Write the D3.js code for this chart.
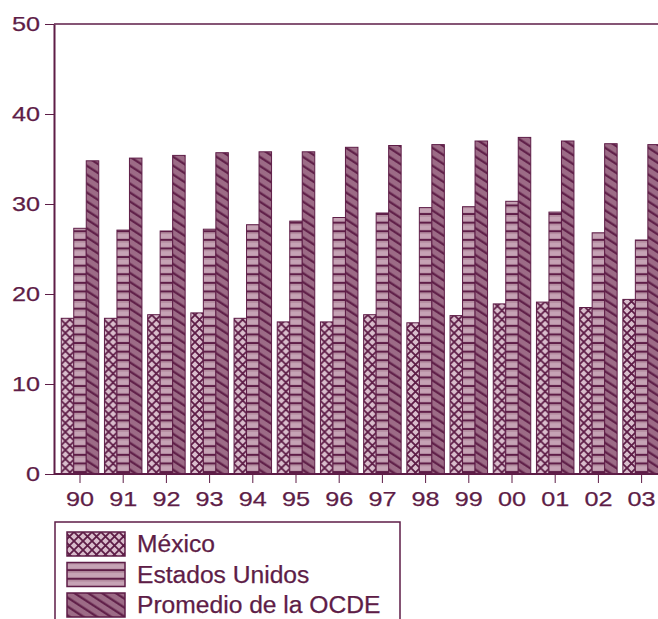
<!DOCTYPE html>
<html>
<head>
<meta charset="utf-8">
<script src="https://cdn.jsdelivr.net/npm/d3@7"></script>
<style>
  body { margin: 0; background: #fff; }
</style>
</head>
<body>
<div id="wrapper"></div>
<script>
width = 658
height = 619

years = ["90", "91", "92", "93", "94", "95", "96", "97", "98", "99", "00", "01", "02", "03"]
series = ["México", "Estados Unidos", "Promedio de la OCDE"]
mexico = [17.3, 17.3, 17.7, 17.9, 17.3, 16.9, 16.9, 17.7, 16.8, 17.6, 18.9, 19.1, 18.5, 19.4]
usa = [27.3, 27.1, 27.0, 27.2, 27.7, 28.1, 28.5, 29.0, 29.6, 29.7, 30.3, 29.1, 26.8, 26.0]
ocde = [34.8, 35.1, 35.4, 35.7, 35.8, 35.8, 36.3, 36.5, 36.6, 37.0, 37.4, 37.0, 36.7, 36.6]
yTicks = [0, 10, 20, 30, 40, 50]

var ink = "#5e1d47"
var font = "'Liberation Sans', Arial, sans-serif"

const svg = d3.select("#wrapper").append("svg")
    .attr("width", width)
    .attr("height", height)
    .style("font-family", font)

// stretch text a bit wider, the scan uses a wide sans
function widen(sel, k) {
    sel.each(function () {
        var w = this.getComputedTextLength()
        d3.select(this)
            .attr("textLength", w * k)
            .attr("lengthAdjust", "spacingAndGlyphs")
    })
}

// hatch patterns
const defs = svg.append("defs")

const pMex = defs.append("pattern")
    .attr("id", "pat0")
    .attr("patternUnits", "userSpaceOnUse")
    .attr("width", 9).attr("height", 9)
    .attr("x", 61).attr("y", 0)
pMex.append("rect").attr("width", 9).attr("height", 9).attr("fill", "#d9bdcc")
pMex.append("path").attr("d", "M0,0L9,9M9,0L0,9")
    .attr("stroke", ink).attr("stroke-width", 1.8)

const pUs = defs.append("pattern")
    .attr("id", "pat1")
    .attr("patternUnits", "userSpaceOnUse")
    .attr("width", 9).attr("height", 8.6)
pUs.append("rect").attr("width", 9).attr("height", 8.6).attr("fill", "#b38b9f")
pUs.append("rect").attr("y", 1.8).attr("width", 9).attr("height", 4.8).attr("fill", "#c6a3b5")
pUs.append("path").attr("d", "M0,7.6H9")
    .attr("stroke", ink).attr("stroke-width", 2)

const pOc = defs.append("pattern")
    .attr("id", "pat2")
    .attr("patternUnits", "userSpaceOnUse")
    .attr("width", 10).attr("height", 7.5)
    .attr("patternTransform", "rotate(33)")
pOc.append("rect").attr("width", 10).attr("height", 7.5).attr("fill", "#9c6b86")
pOc.append("path").attr("d", "M0,3.5H10")
    .attr("stroke", ink).attr("stroke-width", 2.2)

var data = years.map((y, i) => ({ year: y, values: [mexico[i], usa[i], ocde[i]] }))

var x0 = d3.scaleBand()
    .domain(years)
    .range([58.4, 58.4 + 43.2 * years.length])

var x1 = d3.scaleBand()
    .domain(d3.range(series.length))
    .range([2.85, 40.35])

var y = d3.scaleLinear()
    .domain([0, 50])
    .range([474, 24])

// bars
svg.append("g")
    .selectAll("g")
    .data(data)
    .join("g")
    .attr("transform", d => `translate(${x0(d.year)},0)`)
    .selectAll("rect")
    .data(d => d.values.map((v, k) => ({ k: k, v: v })))
    .join("rect")
    .attr("x", d => x1(d.k))
    .attr("width", x1.bandwidth())
    .attr("y", d => y(d.v))
    .attr("height", d => y(0) - y(d.v))
    .attr("fill", d => `url(#pat${d.k})`)
    .attr("stroke", ink)
    .attr("stroke-width", 1)

// frame: top line
svg.append("line")
    .attr("x1", 54).attr("x2", width)
    .attr("y1", y(50)).attr("y2", y(50))
    .attr("stroke", ink).attr("stroke-width", 1.5)

// y axis
svg.append("g")
    .attr("transform", "translate(54,0)")
    .call(d3.axisLeft(y).tickValues(yTicks).tickSize(9).tickPadding(5).tickSizeOuter(0))
    .call(g => g.select(".domain").attr("stroke", ink).attr("stroke-width", 2))
    .call(g => g.selectAll(".tick line").attr("stroke", ink).attr("stroke-width", 1))
    .call(g => g.selectAll(".tick text")
        .attr("fill", ink)
        .attr("stroke", ink)
        .attr("stroke-width", 0.25)
        .style("font-size", "21px")
        .style("font-family", font)
        .call(widen, 1.2))

// x axis
svg.append("g")
    .attr("transform", `translate(0,${y(0)})`)
    .call(d3.axisBottom(x0).tickSize(9).tickPadding(8).tickSizeOuter(0))
    .call(g => g.select(".domain").attr("d", `M54,0H${width}`).attr("stroke", ink).attr("stroke-width", 2))
    .call(g => g.selectAll(".tick line").attr("stroke", ink).attr("stroke-width", 1))
    .call(g => g.selectAll(".tick text")
        .attr("fill", ink)
        .attr("stroke", ink)
        .attr("stroke-width", 0.25)
        .style("font-size", "21px")
        .style("font-family", font)
        .call(widen, 1.2))

// legend
const legend = svg.append("g")

legend.append("rect")
    .attr("x", 55).attr("y", 522)
    .attr("width", 345).attr("height", 110)
    .attr("fill", "none")
    .attr("stroke", ink)
    .attr("stroke-width", 1.5)

const item = legend.selectAll(".item")
    .data(series)
    .join("g")
    .attr("class", "item")
    .attr("transform", (d, i) => `translate(67,${532 + i * 30.5})`)

item.append("rect")
    .attr("width", 58)
    .attr("height", 24)
    .attr("fill", (d, i) => `url(#pat${i})`)
    .attr("stroke", ink)
    .attr("stroke-width", 1.5)

item.append("text")
    .attr("x", 70)
    .attr("y", 20)
    .attr("fill", ink)
    .attr("stroke", ink)
    .attr("stroke-width", 0.25)
    .style("font-size", "23px")
    .text(d => d)
    .call(widen, 1.07)
</script>
</body>
</html>
